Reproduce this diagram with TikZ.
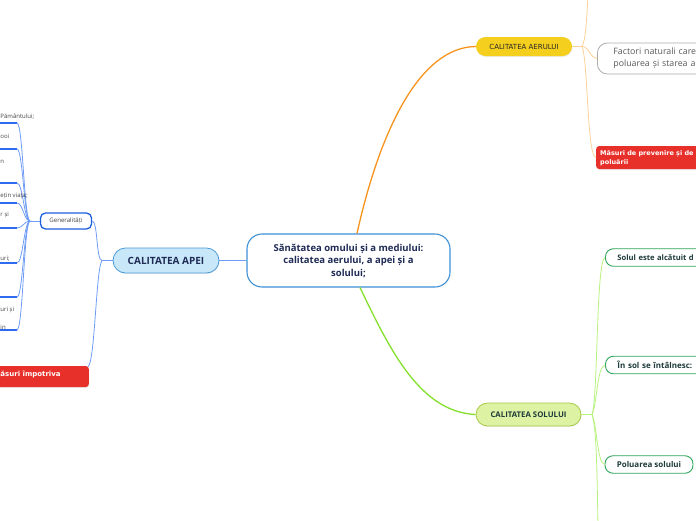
\documentclass[tikz,border=0pt]{standalone}
\usepackage{fontspec}
\setmainfont{Open Sans}
\newfontfamily\dvs{DejaVu Sans}
\usetikzlibrary{shadows}
\definecolor{navy}{HTML}{1F2B55}
\definecolor{cblue}{HTML}{3D8FD6}
\definecolor{apeifill}{HTML}{C8E8FA}
\definecolor{apeiborder}{HTML}{4A9AD8}
\definecolor{genblue}{HTML}{1E5FE0}
\definecolor{lineblue}{HTML}{6E9CF5}
\definecolor{ulblue}{HTML}{2F6BEF}
\definecolor{redc}{HTML}{E8302A}
\definecolor{aeryellow}{HTML}{F5CF1E}
\definecolor{orangemain}{HTML}{F7941D}
\definecolor{orangelight}{HTML}{FDD29A}
\definecolor{solfill}{HTML}{DDF2A2}
\definecolor{solborder}{HTML}{A8C84A}
\definecolor{greenmain}{HTML}{84E02A}
\definecolor{greenlight}{HTML}{B8F27E}
\definecolor{gborder}{HTML}{2CA55A}
\definecolor{gtext}{HTML}{1E3A3A}
\definecolor{leaftext}{HTML}{444444}
\tikzset{
  centralbox/.style={draw=cblue, line width=1.1pt, fill=white, rounded corners=15pt,
    minimum width=203pt, minimum height=53pt, align=center, text=navy,
    font=\fontsize{9.5}{12.5}\selectfont\bfseries},
  apeibox/.style={draw=apeiborder, line width=0.8pt, fill=apeifill, rounded corners=12.5pt,
    minimum width=106pt, minimum height=25pt, inner sep=0pt, text=navy,
    font=\fontsize{10}{11}\selectfont\bfseries,
    drop shadow={opacity=0.15, shadow xshift=0.5pt, shadow yshift=-1pt}},
  genbox/.style={draw=genblue, line width=1.3pt, fill=white, rounded corners=5pt,
    minimum width=51pt, minimum height=16pt, inner sep=0pt, text=leaftext,
    font=\fontsize{6.1}{7}\selectfont},
  redbox/.style={fill=redc, rounded corners=3pt, inner sep=0pt,
    drop shadow={opacity=0.15, shadow xshift=0.5pt, shadow yshift=-1pt}},
  redtext/.style={text=white, font=\dvs\bfseries\fontsize{6.5}{9}\selectfont, inner sep=0pt, align=left},
  aerbox/.style={fill=aeryellow, rounded corners=9.5pt, minimum width=96pt, minimum height=19pt,
    inner sep=0pt, text=black!85, font=\dvs\fontsize{7}{8}\selectfont,
    drop shadow={opacity=0.15, shadow xshift=0.5pt, shadow yshift=-1pt}},
  factoribox/.style={draw=gray!65, line width=0.8pt, fill=white, rounded corners=10pt,
    minimum height=31pt, text width=130pt, inner xsep=16pt, align=left, text=black!65,
    font=\fontsize{8.8}{12}\selectfont},
  solbox/.style={draw=solborder, line width=0.8pt, fill=solfill, rounded corners=11.5pt,
    minimum width=105pt, minimum height=23pt, inner sep=0pt, text=gtext,
    font=\fontsize{7.8}{9}\selectfont\bfseries,
    drop shadow={opacity=0.12, shadow xshift=0.5pt, shadow yshift=-1pt}},
  greenbox/.style={draw=gborder, line width=0.9pt, fill=white, rounded corners=8pt,
    minimum height=17.5pt, inner ysep=0pt, text=gtext, font=\fontsize{8}{9}\selectfont\bfseries},
  leaflabel/.style={text=leaftext, font=\fontsize{6}{7}\selectfont, inner sep=0pt},
  underline/.style={draw=ulblue, line width=1.2pt},
  blueconn/.style={draw=lineblue, line width=0.8pt},
  orangeconn/.style={draw=orangelight, line width=0.8pt},
  greenconn/.style={draw=greenlight, line width=0.8pt},
}
\begin{document}
\begin{tikzpicture}[x=1pt, y=-1pt]
\useasboundingbox (0,0) rectangle (696,520);
\clip (0,0) rectangle (696,520);

\node[centralbox] (central) at (348.5,260.5) {Sănătatea omului și a mediului:\\calitatea aerului, a apei și a\\solului;};
\node[apeibox] (apei) at (166,260.5) {CALITATEA APEI};
\node[aerbox] (aer) at (524,46.5) {CALITATEA AERULUI};
\node[solbox] (sol) at (528.5,414.5) {CALITATEA SOLULUI};

\draw[draw=lineblue, line width=1pt] (central.west) -- (apei.east);
\draw[draw=orangemain, line width=1.3pt] ([xshift=8.5pt]central.north) .. controls (380,130) and (420,47) .. (aer.west);
\draw[draw=greenmain, line width=1.3pt] ([xshift=11.5pt]central.south) .. controls (390,350) and (420,412) .. (sol.west);

% ---- APEI branch
\node[genbox] (gen) at (66,221) {Generalități};
\node[redbox, minimum width=139pt, minimum height=21pt, anchor=east] (redapei) at (89,376.5) {};
\node[redtext, anchor=west, font=\dvs\bfseries\fontsize{7}{9}\selectfont] (redapeitext) at (0.3,374) {ăsuri împotriva};

\coordinate (jA) at (102,260.5);
\draw[blueconn] (apei.west) -- (jA);
\draw[blueconn] (jA) .. controls (96,260.5) and (98,221) .. (gen.east);
\draw[blueconn] (jA) .. controls (96,268) and (95,362) .. ([xshift=-1pt,yshift=-1pt]redapei.north east);

% ---- Generalitati leaves
\coordinate (jG) at (30,221);
\draw[blueconn, line width=1pt] (gen.west) -- (jG);
\foreach \n/\yy in {1/123,2/149,3/183,4/203,5/228,6/263,7/297,8/330}{
  \coordinate (leaf\n) at (17,\yy);
  \draw[underline] (-2,\yy) -- (leaf\n);
  \draw[blueconn] (leaf\n) .. controls (23,\yy) and (24,221) .. (jG);
}
\node[leaflabel, anchor=west] (t1) at (0.3,117) {Pământului;};
\node[leaflabel, anchor=west] (t2) at (0.3,136) {ooi};
\node[leaflabel, anchor=west] (t3) at (0.3,162) {n};
\node[leaflabel, anchor=west] (t4) at (0.3,196) {ețin viața;};
\node[leaflabel, anchor=west] (t5) at (0.3,215) {r și};
\node[leaflabel, anchor=west] (t6) at (0.3,259) {uri;};
\node[leaflabel, anchor=west] (t7) at (0.3,310) {uri și};
\node[leaflabel, anchor=west] (t8) at (0.3,327) {in};

% ---- AERULUI branch
\node[factoribox, anchor=west] (factori) at (597,58.5) {Factori naturali care\\poluarea și starea a};
\node[redbox, minimum width=140pt, minimum height=23pt, anchor=west] (redaer) at (596,157.5) {};
\node[redtext, anchor=north west] (redaertext) at (600,150) {Măsuri de prevenire și de\\poluării};
\coordinate (jO) at (582,46.5);
\coordinate (otop) at (588,-4);
\draw[orangeconn] (aer.east) -- (jO);
\draw[orangeconn] (jO) .. controls (586,40) and (587,12) .. (otop);
\draw[orangeconn] (jO) .. controls (590,47) and (590,58.5) .. (factori.west);
\draw[orangeconn] (jO) .. controls (588,60) and (587,157.5) .. (redaer.west);

% ---- SOLULUI branch
\node[greenbox, anchor=west, minimum width=110pt, inner xsep=12pt, text width=100pt, align=left, font=\fontsize{7.6}{9}\selectfont\bfseries] (solul1) at (605,257.5) {Solul este alcătuit d};
\node[greenbox, anchor=west, minimum width=110pt, inner xsep=12pt, text width=100pt, align=left] (insol) at (605,365) {În sol se întâlnesc:};
\node[greenbox, minimum width=88pt] (pol) at (649,464.5) {Poluarea solului};
\coordinate (jS) at (592,414.5);
\coordinate (sbot) at (598,525);
\draw[greenconn] (sol.east) -- (jS);
\draw[greenconn] (jS) .. controls (598,400) and (596,260) .. (solul1.west);
\draw[greenconn] (jS) .. controls (597,405) and (597,366) .. (insol.west);
\draw[greenconn] (jS) .. controls (597,424) and (597,463) .. (pol.west);
\draw[greenconn] (jS) .. controls (597,430) and (597,480) .. (sbot);
\end{tikzpicture}
\end{document}
